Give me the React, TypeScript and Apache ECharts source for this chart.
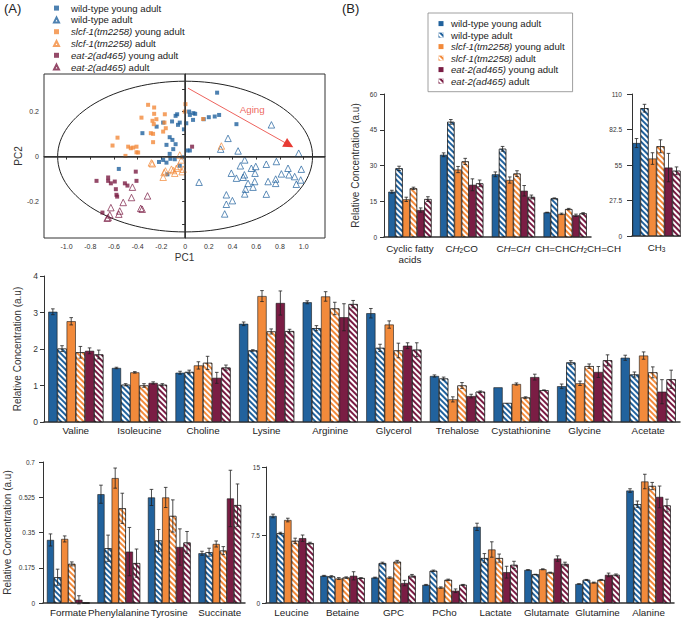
import React, { useEffect, useRef } from 'react';
import * as echarts from 'echarts';

const FONT = '"Liberation Sans", Arial, Helvetica, sans-serif';
const INK = '#222222';
const BLUE = '#21629d';
const ORANGE = '#f28a3b';
const MAROON = '#7a1d44';
const RED = '#e83b33';

const GROUPS = [
  'wild-type young adult',
  'wild-type adult',
  'slcf-1(tm2258) young adult',
  'slcf-1(tm2258) adult',
  'eat-2(ad465) young adult',
  'eat-2(ad465) adult',
];
const GROUP_COLORS = [BLUE, BLUE, ORANGE, ORANGE, MAROON, MAROON];
const GROUP_ADULT = [false, true, false, true, false, true];

// ---------- (A) PCA scores ----------
const PCA_WT_YOUNG = [
  [0.27, 0.284], [0.034, 0.2], [0.07, 0.193], [0.085, 0.19], [0.04, 0.185], [-0.067, 0.188], [-0.08, 0.181],
  [0.2, 0.175], [0.25, 0.178], [0.287, 0.185], [0.157, 0.166], [0.067, 0.163], [0.433, 0.144], [-0.185, 0.151],
  [-0.11, 0.156], [-0.045, 0.151], [-0.06, 0.141], [0.01, 0.148], [-0.24, 0.133], [-0.01, 0.121], [-0.36, 0.104],
  [-0.13, 0.086], [-0.107, 0.074], [-0.157, 0.052], [-0.08, 0.055], [-0.1, 0.033], [0.04, 0.027], [0.02, 0.027],
  [-0.13, 0.012], [-0.185, -0.015], [-0.22, -0.024], [-0.157, -0.027], [-0.124, -0.01], [-0.087, -0.012],
  [-0.045, -0.041], [-0.149, -0.079], [-0.559, -0.055], [-0.022, -0.003],
];
const PCA_WT_ADULT = [
  [0.728, 0.141], [0.362, 0.081], [0.3, 0.033], [0.447, 0.025], [0.958, 0.015], [0.503, -0.015], [0.466, -0.041],
  [0.559, -0.052], [0.596, -0.044], [0.685, -0.034], [0.77, -0.022], [0.868, -0.052], [0.98, -0.056], [0.39, -0.074],
  [0.5, -0.081], [0.49, -0.092], [0.59, -0.074], [0.812, -0.077], [0.876, -0.081], [0.924, -0.089], [0.764, -0.1],
  [0.7, -0.111], [0.764, -0.119], [0.975, -0.104], [0.938, -0.123], [0.531, -0.119], [0.587, -0.111], [0.51, -0.145],
  [0.573, -0.136], [0.118, -0.114], [0.503, -0.166], [0.685, -0.167], [0.348, -0.17], [0.399, -0.196],
  [0.348, -0.212], [0.334, -0.255], [0.433, -0.096],
];
const PCA_SLCF_YOUNG = [
  [-0.312, 0.23], [-0.261, 0.218], [-0.171, 0.188], [-0.261, 0.19], [-0.368, 0.173], [-0.242, 0.166],
  [-0.275, 0.159], [-0.264, 0.144], [-0.174, 0.151], [-0.163, 0.126], [-0.185, 0.111], [0.003, 0.233],
  [-0.003, 0.2], [0.152, 0.167], [-0.289, 0.104], [-0.27, 0.101], [-0.57, 0.084], [-0.27, 0.064], [-0.612, 0.049],
  [-0.48, 0.044], [-0.458, 0.037], [-0.438, 0.04], [-0.41, 0.044], [-0.41, 0.019], [-0.396, 0.018], [-0.503, 0.003],
];
const PCA_SLCF_ADULT = [
  [0.306, 0.047], [-0.045, 0.007], [-0.031, -0.015], [-0.284, -0.028], [-0.276, -0.032], [-0.073, -0.052],
  [-0.115, -0.056], [-0.1, -0.062], [-0.166, -0.064], [-0.177, -0.071], [-0.025, -0.067], [-0.017, -0.056],
  [-0.185, -0.092], [-0.087, -0.074], [-0.059, -0.044],
];
const PCA_EAT_YOUNG = [
  [0.059, 0.044], [-0.416, -0.067], [-0.747, -0.108], [-0.649, -0.093], [-0.649, -0.108], [-0.626, -0.119],
  [-0.593, -0.111], [-0.508, -0.119], [-0.486, -0.129], [-0.584, -0.145], [-0.579, -0.17], [-0.573, -0.178],
  [-0.41, -0.108], [-0.697, -0.249],
];
const PCA_EAT_ADULT = [
  [-0.444, -0.136], [-0.317, -0.175], [-0.452, -0.182], [-0.522, -0.204], [-0.626, -0.227], [-0.374, -0.23],
  [-0.362, -0.234], [-0.551, -0.242], [-0.559, -0.256], [-0.635, -0.259], [-0.649, -0.271], [-0.657, -0.274],
];
const PCA_X_TICKS = [-1.0, -0.8, -0.6, -0.4, -0.2, 0, 0.2, 0.4, 0.6, 0.8, 1.0];
const PCA_Y_TICKS = [-0.3, -0.2, -0.1, 0, 0.1, 0.2, 0.3];
const PCA_Y_LABELS = [-0.2, 0, 0.2];
const PCA_X_RANGE = [-1.19, 1.18];
const PCA_Y_RANGE = [-0.362, 0.367];
const ELLIPSE_CENTER = [0, 0];
const ELLIPSE_RADII = [1.075, 0.335];
const AGING_START = [0.025, 0.304];
const AGING_END = [0.876, 0.052];
const AGING_LABEL_AT = [0.566, 0.207];

// ---------- (B) lipids ----------
const LIPID_CATS = ['Cyclic fatty acids', 'CH2CO', 'CH=CH', 'CH=CHCH2CH=CH'];
const LIPID_VALUES = [
  [19, 34.5, 26.3, 10.3],
  [28.8, 48.3, 37, 16.2],
  [15.8, 28.3, 23.9, 9.7],
  [20.4, 31.7, 26.6, 11.7],
  [11.3, 21.9, 19.4, 9.1],
  [15.9, 22.5, 16.8, 9.9],
];
const LIPID_ERRORS = [
  [0.6, 0.8, 1.0, 0.1],
  [0.9, 1.0, 1.0, 0.2],
  [0.9, 1.3, 1.3, 0.3],
  [0.5, 1.3, 1.2, 0.3],
  [0.9, 2.5, 2.2, 0.5],
  [1.0, 1.4, 0.8, 0.3],
];
const LIPID_TICKS = [0, 15, 30, 45, 60];

const CH3_CATS = ['CH3'];
const CH3_VALUES = [[72], [99], [60], [69.5], [53], [50.5]];
const CH3_ERRORS = [[3.5], [3], [4.5], [5], [11], [3]];
const CH3_TICKS = [0, 27.5, 55, 82.5, 110];

// ---------- middle metabolites ----------
const MID_CATS = ['Valine', 'Isoleucine', 'Choline', 'Lysine', 'Arginine', 'Glycerol', 'Trehalose', 'Cystathionine', 'Glycine', 'Acetate'];
const MID_VALUES = [
  [3.02, 1.48, 1.35, 2.69, 3.28, 2.98, 1.26, 0.95, 0.98, 1.76],
  [2.01, 1.02, 1.37, 1.96, 2.57, 2.03, 1.19, 0.52, 1.63, 1.30],
  [2.76, 1.36, 1.55, 3.45, 3.44, 2.67, 0.62, 1.04, 1.06, 1.82],
  [1.91, 1.0, 1.62, 2.48, 3.11, 1.96, 1.0, 0.67, 1.53, 1.36],
  [1.95, 1.07, 1.21, 3.26, 2.87, 2.09, 0.71, 1.23, 1.37, 0.83],
  [1.85, 1.02, 1.49, 2.49, 3.23, 1.98, 0.83, 0.87, 1.69, 1.17],
];
const MID_ERRORS = [
  [0.08, 0.02, 0.04, 0.05, 0.04, 0.13, 0.03, 0, 0.06, 0.07],
  [0.08, 0.03, 0.05, 0.02, 0.07, 0.1, 0.04, 0, 0.05, 0.07],
  [0.1, 0.02, 0.1, 0.15, 0.13, 0.1, 0.07, 0.03, 0.06, 0.1],
  [0.16, 0.05, 0.18, 0.07, 0.17, 0.2, 0.08, 0.02, 0.06, 0.15],
  [0.08, 0.03, 0.15, 0.33, 0.37, 0.08, 0.05, 0.08, 0.15, 0.33],
  [0.12, 0.03, 0.07, 0.05, 0.1, 0.19, 0.02, 0.01, 0.15, 0.25],
];
const MID_TICKS = [0, 1, 2, 3, 4];

// ---------- bottom left ----------
const LOW_CATS = ['Formate', 'Phenylalanine', 'Tyrosine', 'Succinate'];
const LOW_VALUES = [
  [0.313, 0.54, 0.524, 0.247],
  [0.128, 0.272, 0.31, 0.252],
  [0.318, 0.62, 0.524, 0.293],
  [0.194, 0.47, 0.432, 0.26],
  [0.016, 0.255, 0.278, 0.519],
  [0, 0.198, 0.3, 0.486],
];
const LOW_ERRORS = [
  [0.03, 0.045, 0.04, 0.01],
  [0.04, 0.065, 0.055, 0.02],
  [0.015, 0.05, 0.05, 0.015],
  [0.01, 0.075, 0.08, 0.02],
  [0.02, 0.12, 0.09, 0.14],
  [0, 0.07, 0.055, 0.105],
];
const LOW_TICKS = [0, 0.175, 0.35, 0.525, 0.7];

// ---------- bottom right ----------
const HIGH_CATS = ['Leucine', 'Betaine', 'GPC', 'PCho', 'Lactate', 'Glutamate', 'Glutamine', 'Alanine'];
const HIGH_VALUES = [
  [9.6, 3.0, 2.8, 2.0, 8.4, 3.65, 2.1, 12.4],
  [7.7, 2.93, 4.4, 3.55, 4.95, 3.15, 2.55, 10.9],
  [9.15, 2.7, 2.8, 1.7, 5.9, 3.72, 2.25, 13.4],
  [6.85, 2.8, 4.55, 2.55, 4.95, 3.35, 2.55, 12.9],
  [7.15, 3.0, 2.2, 1.35, 3.4, 4.9, 3.1, 11.7],
  [6.6, 2.75, 3.0, 2.0, 4.2, 4.3, 3.1, 10.75],
];
const HIGH_ERRORS = [
  [0.2, 0.05, 0.05, 0.05, 0.4, 0.02, 0.02, 0.2],
  [0.1, 0.08, 0.1, 0.08, 0.5, 0.02, 0.05, 0.35],
  [0.2, 0.1, 0.08, 0.08, 0.85, 0.05, 0.05, 0.8],
  [0.3, 0.08, 0.15, 0.08, 0.45, 0.05, 0.05, 0.4],
  [0.35, 0.45, 0.3, 0.2, 0.65, 0.3, 0.2, 1.2],
  [0.1, 0.05, 0.15, 0.05, 0.4, 0.2, 0.1, 0.7],
];
const HIGH_TICKS = [0, 7.5, 15];

const Y_NAME = 'Relative Concentration (a.u)';

const RICH_LABELS: Record<string, string> = {
  'Cyclic fatty acids': 'Cyclic fatty\nacids',
  CH2CO: 'C{i|H}{s|2}CO',
  'CH=CH': 'C{i|H}=C{i|H}',
  'CH=CHCH2CH=CH': '{pad|}CH=CHC{i|H}{s|2}CH=CH',
  CH3: 'CH{s|3}',
};

const legendText = (name: string) => {
  const n = name.replace(/^A\|/, '');
  const m = n.match(/^((?:slcf-1\(tm2258\))|(?:eat-2\(ad465\)))(.*)$/);
  return m ? `{i|${m[1]}}${m[2]}` : n;
};

const hatch = {
  symbol: 'rect',
  symbolSize: 1,
  color: '#ffffff',
  dashArrayX: [1, 0],
  dashArrayY: [1.6, 1.6],
  rotation: Math.PI / 4,
};

function buildOption() {
  const grids: any[] = [];
  const xAxes: any[] = [];
  const yAxes: any[] = [];
  const series: any[] = [];

  // ---- PCA grid (index 0)
  grids.push({ left: 44, top: 74, width: 281, height: 164, show: true, borderColor: '#333', borderWidth: 1, containLabel: false, outerBoundsMode: 'none' });
  xAxes.push({
    type: 'value', gridIndex: 0, min: PCA_X_RANGE[0], max: PCA_X_RANGE[1],
    axisLine: { show: true, lineStyle: { color: '#333' } },
    axisTick: { show: true, customValues: PCA_X_TICKS, length: 3, lineStyle: { color: '#333' } },
    axisLabel: { customValues: PCA_X_TICKS, formatter: (v: number) => (Math.abs(v) < 1e-9 ? '0' : v.toFixed(1)), fontSize: 7, color: '#333', fontFamily: FONT, margin: 5 },
    splitLine: { show: false },
    name: 'PC1', nameLocation: 'middle', nameGap: 14, nameTextStyle: { fontSize: 10, color: '#333', fontFamily: FONT },
  });
  yAxes.push({
    type: 'value', gridIndex: 0, min: PCA_Y_RANGE[0], max: PCA_Y_RANGE[1],
    axisLine: { show: true, lineStyle: { color: '#333' } },
    axisTick: { show: true, customValues: PCA_Y_TICKS, length: 3, lineStyle: { color: '#333' } },
    axisLabel: { customValues: PCA_Y_LABELS, formatter: (v: number) => (Math.abs(v) < 1e-9 ? '0' : v.toFixed(1)), fontSize: 7, color: '#333', fontFamily: FONT, margin: 5 },
    splitLine: { show: false },
    name: 'PC2', nameLocation: 'middle', nameGap: 16, nameTextStyle: { fontSize: 10, color: '#333', fontFamily: FONT },
  });

  series.push({
    type: 'custom', name: 'ellipse', xAxisIndex: 0, yAxisIndex: 0, silent: true, z: 1,
    data: [ELLIPSE_CENTER],
    renderItem: (params: any, api: any) => {
      const c = api.coord([api.value(0), api.value(1)]);
      const p = api.coord([api.value(0) + ELLIPSE_RADII[0], api.value(1) + ELLIPSE_RADII[1]]);
      return {
        type: 'ellipse',
        shape: { cx: c[0], cy: c[1], rx: Math.abs(p[0] - c[0]), ry: Math.abs(c[1] - p[1]) },
        style: { fill: 'none', stroke: '#222', lineWidth: 1 },
      };
    },
  });

  const pcaSets = [PCA_WT_YOUNG, PCA_WT_ADULT, PCA_SLCF_YOUNG, PCA_SLCF_ADULT, PCA_EAT_YOUNG, PCA_EAT_ADULT];
  pcaSets.forEach((pts, i) => {
    const adult = GROUP_ADULT[i];
    const s: any = {
      type: 'scatter', name: 'A|' + GROUPS[i], xAxisIndex: 0, yAxisIndex: 0, data: pts, z: 3,
      symbol: adult ? 'triangle' : 'rect', symbolSize: adult ? 6.5 : 4,
      itemStyle: adult
        ? { color: 'rgba(255,255,255,0)', borderColor: GROUP_COLORS[i], borderWidth: 0.9 }
        : { color: GROUP_COLORS[i], borderWidth: 0 },
      silent: true,
    };
    if (i === 0) {
      s.markLine = {
        silent: true, symbol: ['none', 'none'], label: { show: false },
        lineStyle: { color: '#333', width: 1.5, type: 'solid' },
        data: [{ xAxis: 0 }, { yAxis: 0 }],
      };
    }
    series.push(s);
  });
  series.push({
    type: 'scatter', name: 'aging', xAxisIndex: 0, yAxisIndex: 0, data: [AGING_LABEL_AT], z: 4, silent: true,
    symbolSize: 1, itemStyle: { color: 'rgba(0,0,0,0)' },
    label: { show: true, position: 'inside', formatter: 'Aging', color: RED, fontSize: 9.8, fontFamily: FONT },
    markLine: {
      silent: true, symbol: ['none', 'triangle'], symbolSize: 10, label: { show: false },
      lineStyle: { color: RED, width: 0.8, type: 'solid' }, itemStyle: { color: RED },
      data: [[{ coord: AGING_START }, { coord: AGING_END }]],
    },
  });

  // ---- bar panels
  const panels = [
    { cats: LIPID_CATS, values: LIPID_VALUES, errors: LIPID_ERRORS, ticks: LIPID_TICKS, grid: { left: 384, top: 94, width: 207, height: 143 }, gap: 0.165, tickFont: 6.5, tickLen: 4, labelMargin: 7, name: Y_NAME, nameGap: 24, catMargin: 6 },
    { cats: CH3_CATS, values: CH3_VALUES, errors: CH3_ERRORS, ticks: CH3_TICKS, grid: { left: 632, top: 94, width: 49, height: 142 }, gap: 0.02, tickFont: 6.5, tickLen: 5, labelMargin: 10, name: '', nameGap: 0, catMargin: 6 },
    { cats: MID_CATS, values: MID_VALUES, errors: MID_ERRORS, ticks: MID_TICKS, grid: { left: 44, top: 276, width: 636, height: 146 }, gap: 0.134, tickFont: 8.5, tickLen: 4, labelMargin: 6, name: Y_NAME, nameGap: 21, catMargin: 3 },
    { cats: LOW_CATS, values: LOW_VALUES, errors: LOW_ERRORS, ticks: LOW_TICKS, grid: { left: 43, top: 462, width: 202, height: 141 }, gap: 0.155, tickFont: 6.5, tickLen: 4, labelMargin: 8, name: Y_NAME, nameGap: 31, catMargin: 4 },
    { cats: HIGH_CATS, values: HIGH_VALUES, errors: HIGH_ERRORS, ticks: HIGH_TICKS, grid: { left: 266, top: 467, width: 408, height: 136 }, gap: 0.13, tickFont: 6.5, tickLen: 4, labelMargin: 6, name: '', nameGap: 0, catMargin: 4 },
  ];

  const catRich = {
    i: { fontStyle: 'italic', fontSize: 9.8, fontFamily: FONT, color: INK },
    s: { fontSize: 6.5, fontFamily: FONT, color: INK, verticalAlign: 'bottom', lineHeight: 9 },
    pad: { width: 26 },
  };

  panels.forEach((p, k) => {
    const g = k + 1;
    grids.push({ ...p.grid, containLabel: false, outerBoundsMode: 'none' });
    xAxes.push({
      type: 'category', gridIndex: g, data: p.cats,
      axisLine: { show: true, lineStyle: { color: '#333', width: 1.5 } },
      axisTick: { show: false },
      axisLabel: {
        interval: 0, fontSize: 9.8, color: INK, fontFamily: FONT, margin: p.catMargin, lineHeight: 11,
        formatter: (v: string) => RICH_LABELS[v] ?? v, rich: catRich,
      },
      splitLine: { show: false },
    });
    yAxes.push({
      type: 'value', gridIndex: g, min: p.ticks[0], max: p.ticks[p.ticks.length - 1], interval: p.ticks[1] - p.ticks[0],
      axisLine: { show: true, lineStyle: { color: '#333', width: 1 } },
      axisTick: { show: true, length: p.tickLen, lineStyle: { color: '#333' } },
      axisLabel: { fontSize: p.tickFont, color: '#333', fontFamily: FONT, margin: p.labelMargin },
      splitLine: { show: false },
      name: p.name, nameLocation: 'middle', nameGap: p.nameGap,
      nameTextStyle: { fontSize: 10, color: '#333', fontFamily: FONT },
    });
    p.values.forEach((vals, i) => {
      series.push({
        type: 'bar', name: GROUPS[i], xAxisIndex: g, yAxisIndex: g, data: vals, silent: true,
        barGap: '0%', barCategoryGap: `${p.gap * 100}%`,
        itemStyle: {
          color: GROUP_COLORS[i], borderColor: '#1a1a1a', borderWidth: 0.6,
          ...(GROUP_ADULT[i] ? { decal: hatch } : {}),
        },
      });
    });
    const errData: number[][] = [];
    p.values.forEach((vals, i) => vals.forEach((v, c) => {
      const e = p.errors[i][c];
      if (e > 0) errData.push([c, i, v, e]);
    }));
    const gap = p.gap;
    series.push({
      type: 'custom', name: 'err' + g, xAxisIndex: g, yAxisIndex: g, silent: true, z: 5,
      encode: { x: 0, y: 2 }, data: errData,
      renderItem: (params: any, api: any) => {
        const cat = api.value(0);
        const s = api.value(1);
        const v = api.value(2);
        const e = api.value(3);
        const center = api.coord([cat, v]);
        const band = api.size([1, 0])[0];
        const gw = band * (1 - gap);
        const bw = gw / 6;
        const x = center[0] - gw / 2 + bw * (s + 0.5);
        const yTop = api.coord([cat, v + e])[1];
        const yBot = api.coord([cat, v - e])[1];
        const cap = 1.8;
        const style = { stroke: '#222', lineWidth: 0.8 };
        return {
          type: 'group',
          children: [
            { type: 'line', shape: { x1: x, y1: yTop, x2: x, y2: yBot }, style },
            { type: 'line', shape: { x1: x - cap, y1: yTop, x2: x + cap, y2: yTop }, style },
            { type: 'line', shape: { x1: x - cap, y1: yBot, x2: x + cap, y2: yBot }, style },
          ],
        };
      },
    });
  });

  const legendRich = { i: { fontStyle: 'italic', fontSize: 9.6, fontFamily: FONT, color: INK, lineHeight: 11.2 } };

  return {
    animation: false,
    backgroundColor: '#ffffff',
    textStyle: { fontFamily: FONT },
    grid: grids,
    xAxis: xAxes,
    yAxis: yAxes,
    legend: [
      {
        left: 53, top: 2.5, orient: 'vertical', padding: 0, itemWidth: 5, itemHeight: 5, itemGap: 0.6,
        selectedMode: false, data: GROUPS.map((g) => 'A|' + g), formatter: legendText,
        textStyle: { fontSize: 9.6, color: INK, fontFamily: FONT, lineHeight: 11.2, padding: [0, 0, 0, 7], rich: legendRich },
      },
      {
        left: 428, top: 13, orient: 'vertical', padding: [5, 8, 5, 10.5], itemWidth: 5, itemHeight: 5, itemGap: 0.3,
        borderColor: '#888', borderWidth: 0.8, icon: 'rect', itemStyle: { borderWidth: 0 },
        selectedMode: false, data: GROUPS, formatter: legendText,
        textStyle: { fontSize: 9.6, color: INK, fontFamily: FONT, lineHeight: 11.2, padding: [0, 0, 0, 2.5], rich: legendRich },
      },
    ],
    graphic: [
      { type: 'text', left: 4, top: 2, style: { text: '(A)', fontSize: 13, fontFamily: FONT, fill: INK } },
      { type: 'text', left: 342, top: 2, style: { text: '(B)', fontSize: 13, fontFamily: FONT, fill: INK } },
    ],
    series,
  };
}

export default function App() {
  const ref = useRef<HTMLDivElement>(null);
  useEffect(() => {
    if (!ref.current) return;
    const chart = echarts.init(ref.current, undefined, { renderer: 'svg' });
    chart.setOption(buildOption() as any);
    return () => chart.dispose();
  }, []);
  return <div ref={ref} style={{ position: 'fixed', left: 0, top: 0, width: 681, height: 618, background: '#fff' }} />;
}
